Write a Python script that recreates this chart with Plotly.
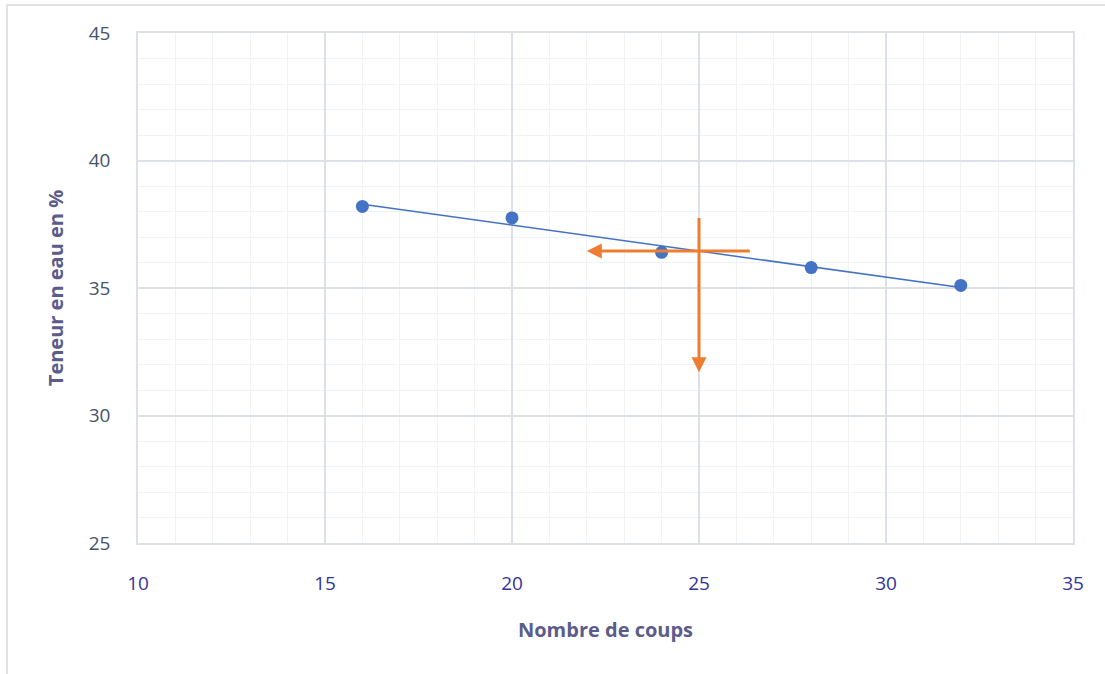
import numpy as np
import plotly.graph_objects as go

# Data
coups = [16, 20, 24, 28, 32]
teneur = [38.2, 37.75, 36.4, 35.8, 35.1]
x_ticks = [10, 15, 20, 25, 30, 35]
y_ticks = [25, 30, 35, 40, 45]
target_coups = 25
arrow_h_start = 26.4
arrow_h_end = 22.0
arrow_v_start = 37.8
arrow_v_end = 31.7

# linear trend
slope, intercept = np.polyfit(coups, teneur, 1)
trend_x = [min(coups), max(coups)]
trend_y = [slope * v + intercept for v in trend_x]
target_teneur = slope * target_coups + intercept

W, H = 1105, 674
ml, mr, mt, mb = 138, 32, 33, 131

fig = go.Figure()
fig.add_trace(go.Scatter(x=trend_x, y=trend_y, mode="lines",
                         line=dict(color="#4472C4", width=1.5),
                         hoverinfo="skip", showlegend=False))
fig.add_trace(go.Scatter(x=coups, y=teneur, mode="markers",
                         marker=dict(color="#4472C4", size=13),
                         showlegend=False))

arrow_col = "#ED7D31"
fig.add_annotation(x=arrow_h_end, y=target_teneur, ax=arrow_h_start, ay=target_teneur,
                   xref="x", yref="y", axref="x", ayref="y", text="",
                   showarrow=True, arrowhead=2, arrowsize=1, arrowwidth=3,
                   arrowcolor=arrow_col)
fig.add_annotation(x=target_coups, y=arrow_v_end, ax=target_coups, ay=arrow_v_start,
                   xref="x", yref="y", axref="x", ayref="y", text="",
                   showarrow=True, arrowhead=2, arrowsize=1, arrowwidth=3,
                   arrowcolor=arrow_col)

# outer frame (left and top edges visible)
pw = W - ml - mr
ph = H - mt - mb
fig.add_shape(type="rect", xref="paper", yref="paper",
              x0=(7 - ml) / pw, x1=(W + 20 - ml) / pw,
              y0=-(H + 20 - mt - ph) / ph, y1=1 + (mt - 5) / ph,
              line=dict(color="#d9d9d9", width=1.5), layer="below")

grid_major = "#dce0e8"
grid_minor = "#f1f2f5"
font_fam = "'Open Sans', Lato, sans-serif"

fig.update_layout(
    width=W, height=H,
    margin=dict(l=ml, r=mr, t=mt, b=mb),
    paper_bgcolor="white", plot_bgcolor="white",
    font=dict(family=font_fam),
    showlegend=False,
    xaxis=dict(range=[10, 35], tickvals=x_ticks, showgrid=True,
               gridcolor=grid_major, gridwidth=1.5,
               minor=dict(dtick=1, showgrid=True, gridcolor=grid_minor, gridwidth=1),
               showline=True, linecolor=grid_major, linewidth=1.5, mirror=True,
               zeroline=False, ticks="",
               tickfont=dict(size=19, color="#33339a", family=font_fam),
               ticklabelstandoff=22,
               title=dict(text="<b>Nombre de coups</b>", standoff=28,
                          font=dict(size=20, color="#5b5b8c", family=font_fam))),
    yaxis=dict(range=[25, 45], tickvals=y_ticks, showgrid=True,
               gridcolor=grid_major, gridwidth=1.5,
               minor=dict(dtick=1, showgrid=True, gridcolor=grid_minor, gridwidth=1),
               showline=True, linecolor=grid_major, linewidth=1.5, mirror=True,
               zeroline=False, ticks="",
               tickfont=dict(size=19, color="#44546a", family=font_fam),
               ticklabelstandoff=22,
               title=dict(text="<b>Teneur en eau en %</b>", standoff=20,
                          font=dict(size=20, color="#5b5b8c", family=font_fam))),
)

fig.write_html("out.html", config={"displayModeBar": False},
               post_script="document.body.style.margin='0px';")
